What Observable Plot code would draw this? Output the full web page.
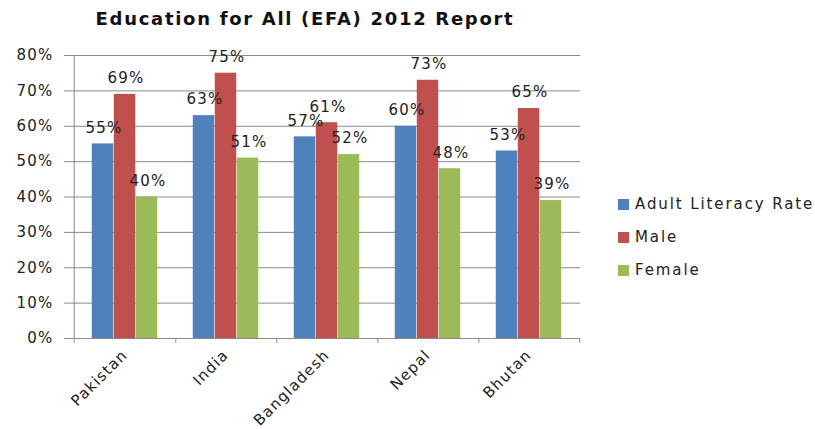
<!DOCTYPE html>
<html>
<head>
<meta charset="utf-8">
<script src="https://cdn.jsdelivr.net/npm/d3@7"></script>
<script src="https://cdn.jsdelivr.net/npm/@observablehq/plot@0.6"></script>
<style>
  body { margin: 0; background: #fff; font-family: "DejaVu Sans", Verdana, sans-serif; }
  #wrap { position: relative; width: 815px; height: 429px; overflow: hidden; }
  #title { position: absolute; left: 0; width: 610px; top: 8px; text-align: center; font-weight: bold; font-size: 18px; letter-spacing: 1.7px; color: #111; }
  #legend { position: absolute; left: 618px; top: 195px; font-size: 15px; letter-spacing: 1.9px; color: #222; }
  #legend .item { height: 33px; display: flex; align-items: flex-start; white-space: nowrap; }
  #legend .sw { width: 11px; height: 11px; margin-top: 4px; margin-right: 6px; flex: none; }
  #chart { position: absolute; left: 0; top: 0; }
</style>
</head>
<body>
<div id="wrap">
  <div id="chart"></div>
  <div id="title">Education for All (EFA) 2012 Report</div>
  <div id="legend"></div>
</div>
<script>
const countries = ["Pakistan", "India", "Bangladesh", "Nepal", "Bhutan"];
const series = ["Adult Literacy Rate", "Male", "Female"];
const adultLiteracy = [55, 63, 57, 60, 53];
const male = [69, 75, 61, 73, 65];
const female = [40, 51, 52, 48, 39];
const colors = ["#4F81BD", "#C0504D", "#9BBB59"];
const yTicks = [0, 0.1, 0.2, 0.3, 0.4, 0.5, 0.6, 0.7, 0.8];

const values = [adultLiteracy, male, female];
const data = [];
series.forEach((s, si) => countries.forEach((c, ci) => data.push({country: c, series: s, si, value: values[si][ci] / 100})));

const step = (580 - 72) / countries.length;
const gap = step * 0.35 / 2;
const barW = (step - 2 * gap) / 3;

const marks = [
  Plot.ruleY(yTicks.filter(d => d > 0), {stroke: "#8a8a8a", strokeWidth: 1}),
];
series.forEach((s, si) => {
  marks.push(Plot.barY(data.filter(d => d.si === si), {
    x: "country", y: "value", fill: colors[si],
    insetLeft: gap + barW * si,
    insetRight: step - gap - barW * (si + 1)
  }));
});
series.forEach((s, si) => {
  marks.push(Plot.text(data.filter(d => d.si === si), {
    x: "country", y: "value", text: d => Math.round(d.value * 100) + "%",
    dx: (si - 1) * barW + 1, dy: -16, fontSize: 15, fill: "#222"
  }));
});
marks.push(
  Plot.ruleY([0], {stroke: "#8a8a8a"}),
  Plot.ruleX([countries[0]], {dx: -step / 2, insetBottom: -5, stroke: "#8a8a8a"}),
  Plot.ruleX(countries, {dx: step / 2, y1: 0, y2: 0, insetBottom: -5, stroke: "#8a8a8a"}),
  Plot.axisY({ticks: yTicks, tickFormat: d3.format(".0%"), tickSize: 8, tickPadding: 11, fontSize: 15, stroke: "#8a8a8a", label: null}),
  Plot.axisX({tickSize: 0, tickRotate: -45, tickPadding: 14, fontSize: 15, label: null})
);

const chart = Plot.plot({
  width: 815,
  height: 429,
  marginLeft: 72,
  marginRight: 235,
  marginTop: 55,
  marginBottom: 91,
  style: {fontFamily: "DejaVu Sans, Verdana, sans-serif", color: "#222", background: "white", letterSpacing: "1.2px", overflow: "visible"},
  x: {domain: countries, padding: 0, label: null},
  y: {domain: [0, 0.8], label: null},
  marks
});
document.getElementById("chart").appendChild(chart);

const legend = document.getElementById("legend");
series.forEach((s, i) => {
  const item = document.createElement("div");
  item.className = "item";
  const sw = document.createElement("span");
  sw.className = "sw";
  sw.style.background = colors[i];
  const t = document.createElement("span");
  t.textContent = s;
  item.appendChild(sw);
  item.appendChild(t);
  legend.appendChild(item);
});
</script>
</body>
</html>
